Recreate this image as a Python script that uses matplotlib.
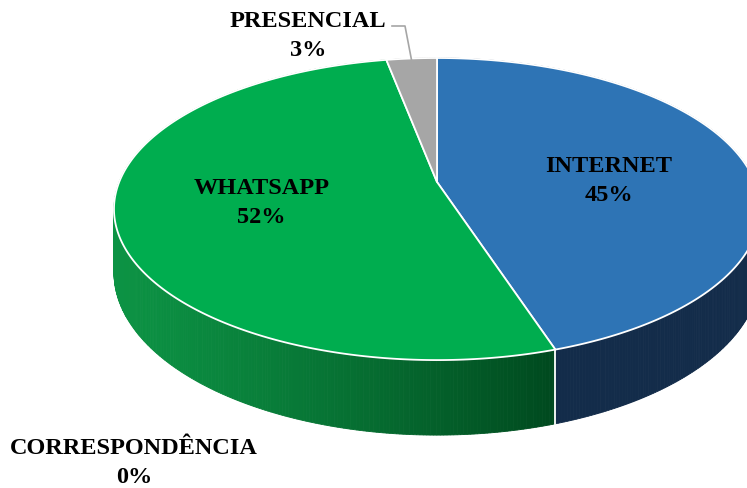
import numpy as np
import matplotlib.pyplot as plt
from matplotlib.patches import Polygon
from matplotlib.colors import to_rgb

labels = ["INTERNET", "WHATSAPP", "CORRESPONDÊNCIA", "PRESENCIAL"]
values = [45, 52, 0, 3]
top_colors = ["#2e74b5", "#00ad4f", "#ed7d31", "#a6a6a6"]
side_colors = ["#132c4a", None, "#9e4a14", "#6e6e6e"]  # None -> gradient
green_side_left = "#0c9344"
green_side_right = "#004a1f"

# pie geometry in pixel space (perspective view)
CX, CY = 437.0, 182.0
A, B, K = 317.8, 146.2, 0.179
DEPTH = 61.6


def proj(theta_deg, r=1.0, bottom=False):
    t = np.radians(theta_deg)
    u, v = r * np.sin(t), r * np.cos(t)
    w = 1 + K * v
    x = CX + A * u / w
    y = CY - B * v / w
    if bottom:
        y = y + DEPTH / w
    return x, y


fig = plt.figure(figsize=(7.47, 4.88), dpi=100)
ax = fig.add_axes([0, 0, 1, 1])
ax.set_xlim(0, 747)
ax.set_ylim(488, 0)
ax.axis("off")

total = sum(values)
edges = np.concatenate([[0], np.cumsum(values)]) / total * 360.0

gl = np.array(to_rgb(green_side_left))
gr = np.array(to_rgb(green_side_right))

# side wall, built from thin quads and drawn back to front
quads = []
for i, val in enumerate(values):
    if val == 0:
        continue
    a0, a1 = edges[i], edges[i + 1]
    n = max(4, int((a1 - a0) * 2))
    ts = np.linspace(a0, a1, n + 1)
    for t0, t1 in zip(ts[:-1], ts[1:]):
        p = [proj(t0), proj(t1), proj(t1, bottom=True), proj(t0, bottom=True)]
        depth_key = np.cos(np.radians((t0 + t1) / 2))
        if side_colors[i] is None:
            xm = (p[0][0] + p[1][0]) / 2
            f = np.clip((xm - 113) / (550 - 113), 0, 1) ** 1.2
            col = gl * (1 - f) + gr * f
        else:
            col = side_colors[i]
        quads.append((depth_key, p, col))

for _, p, col in sorted(quads, key=lambda q: -q[0]):
    ax.add_patch(Polygon(p, closed=True, facecolor=col, edgecolor=col, lw=0.6))

# white seams on the visible side wall
for a in edges:
    if np.cos(np.radians(a)) < -K:
        x0, y0 = proj(a)
        x1, y1 = proj(a, bottom=True)
        ax.plot([x0, x1], [y0, y1], color="white", lw=1.3)

# top face
for i, val in enumerate(values):
    if val == 0:
        continue
    a0, a1 = edges[i], edges[i + 1]
    ts = np.linspace(a0, a1, max(8, int((a1 - a0) * 2)))
    pts = [(CX, CY)] + [proj(t) for t in ts]
    ax.add_patch(Polygon(pts, closed=True, facecolor=top_colors[i],
                         edgecolor="white", lw=1.3, joinstyle="round"))

font = dict(family="Liberation Serif", fontweight="bold", fontsize=17.5,
            color="black", ha="center", va="center", linespacing=1.5)

# labels inside the big slices
for i in (0, 1):
    mid = (edges[i] + edges[i + 1]) / 2
    x, y = proj(mid, r=0.556)
    if i == 0:
        y += 12
    ax.text(x, y, f"{labels[i]}\n{values[i]}%", **font)

# outside labels
gray_mid = (edges[3] + edges[4]) / 2
gx, gy = proj(gray_mid)
ax.plot([392, 405, gx], [26, 26, gy + 2], color="#a6a6a6", lw=1.2)
ax.text(308, 36, f"{labels[3]}\n{values[3]}%", **font)
ax.text(134, 463, f"{labels[2]}\n{values[2]}%", **font)

fig.savefig("out.png", dpi=100)
